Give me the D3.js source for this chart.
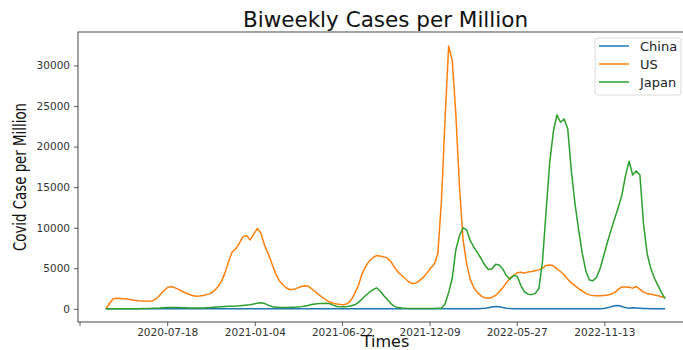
<!DOCTYPE html>
<html><head><meta charset="utf-8">
<script src="https://cdn.jsdelivr.net/npm/d3@7"></script>
<style>body{margin:0;background:#fff;overflow:hidden}</style>
</head><body>
<svg id="c" width="683" height="350"></svg>
<script>
// ---- data (weekly samples starting at startDate) ----
const startDate = "2020-03-21";
const stepDays = 7;
const seriesNames = ["China", "US", "Japan"];
const seriesColors = ["#1f77b4", "#ff7f0e", "#2ca02c"];
const china = [
  0,0,0,0,0,0,0,0,0,0,0,0,0,0,0,0,0,0,0,0,
  0,0,0,0,0,0,0,0,0,0,0,0,0,0,0,0,0,0,0,0,
  0,0,0,0,0,0,0,0,0,0,0,0,0,0,0,0,0,0,0,0,
  0,0,0,0,0,0,0,0,0,0,0,0,0,0,0,0,0,0,0,0,
  0,0,0,0,0,0,0,0,0,0,0,0,0,0,0,0,0,0,0,0,
  0,0,0,0,
  30,60,120,220,280,260,150,80,40,20,
  10,10,10,10,10,10,10,10,10,10,10,10,10,10,10,10,10,10,10,10,10,10,10,
  20,50,120,250,380,400,280,150,80,120,90,60,40,30,20,10,10,10,10
];
const us = [
  0,650,1200,1300,1280,1250,1200,1130,1050,1000,
  970,950,940,1000,1250,1700,2200,2600,2750,2620,
  2420,2200,1980,1800,1650,1560,1580,1650,1750,1870,
  2200,2700,3350,4400,5800,7000,7400,8100,8900,9000,
  8500,9200,9900,9300,7800,6800,5600,4400,3500,3000,
  2600,2350,2400,2550,2720,2850,2800,2500,2100,1750,
  1400,1100,830,680,580,520,500,650,1100,1900,
  2900,4300,5200,5900,6300,6550,6500,6400,6250,5800,
  5100,4500,4100,3700,3300,3100,3200,3500,3900,4400,
  5000,5500,6800,13300,23300,32400,30600,23900,15100,8500,
  5500,3600,2600,2000,1600,1350,1300,1400,1650,2100,
  2600,3200,3800,4100,4450,4500,4400,4550,4600,4700,
  4800,5000,5350,5400,5300,4900,4600,4200,3650,3200,
  2850,2500,2200,1900,1720,1650,1600,1620,1650,1700,
  1800,2000,2400,2700,2700,2650,2550,2750,2400,2050,
  1900,1800,1700,1600,1480,1360
];
const japan = [
  0,10,20,20,20,20,20,20,20,20,
  30,40,50,60,70,90,120,150,160,160,
  150,140,120,100,100,100,100,110,130,150,
  190,230,260,290,310,330,350,380,420,470,
  510,600,700,740,650,450,280,200,180,170,
  170,180,200,230,270,330,420,520,600,640,
  670,690,640,450,290,240,250,300,370,500,
  800,1200,1650,2050,2350,2590,2200,1650,1150,650,
  300,150,90,60,50,40,40,40,40,40,
  40,50,60,70,600,2000,3800,7300,9000,10000,
  9700,8400,7600,6900,6200,5400,4850,4900,5500,5400,
  4900,4100,3650,4100,4000,2900,2100,1800,1750,1900,
  2500,5800,12000,18000,21800,23900,23000,23400,22200,17000,
  13000,9800,6900,4700,3550,3450,3900,5000,6600,8200,
  9700,11100,12500,14000,16400,18200,16500,17000,16500,10500,
  6800,5000,3800,2900,2000,1250
];
const xTickDates = ["2020-01-30","2020-07-18","2021-01-04","2021-06-22","2021-12-09","2022-05-27","2022-11-13"];
const xTickLabels = ["","2020-07-18","2021-01-04","2021-06-22","2021-12-09","2022-05-27","2022-11-13"];
const yTicks = [0,5000,10000,15000,20000,25000,30000];
const xDomain = ["2020-01-27","2023-05-04"];
const yDomain = [-1625, 34125];
const titleText = "Biweekly Cases per Million";
const xLabel = "Times";
const yLabel = "Covid Case per Million";

// ---- layout ----
const L = 78, R = 693, T = 32, B = 322;
const font = "DejaVu Sans, sans-serif";
const parse = d3.utcParse("%Y-%m-%d");
const start = parse(startDate);
const dates = us.map((_, i) => d3.utcDay.offset(start, i * stepDays));

const x = d3.scaleUtc().domain(xDomain.map(parse)).range([L, R]);
const y = d3.scaleLinear().domain(yDomain).range([B, T]);

const svg = d3.select("#c");
svg.append("rect").attr("width", 683).attr("height", 350).attr("fill", "#fff");

svg.append("defs").append("clipPath").attr("id", "clip")
  .append("rect").attr("x", L).attr("y", T).attr("width", R - L).attr("height", B - T);

const line = d3.line().x((d, i) => x(dates[i])).y(d => y(d));
const g = svg.append("g").attr("clip-path", "url(#clip)");
[china, us, japan].forEach((s, k) => {
  g.append("path").datum(s).attr("d", line)
    .attr("fill", "none").attr("stroke", seriesColors[k])
    .attr("stroke-width", 1.5).attr("stroke-linejoin", "round");
});

// axes
const yAxis = d3.axisLeft(y).tickValues(yTicks).tickSize(4).tickPadding(4).tickFormat(d3.format("d"));
const ya = svg.append("g").attr("transform", `translate(${L},0)`).call(yAxis);
const xAxis = d3.axisBottom(x).tickValues(xTickDates.map(parse)).tickSize(4).tickPadding(3)
  .tickFormat((d, i) => xTickLabels[i]);
const xa = svg.append("g").attr("transform", `translate(0,${B})`).call(xAxis);
[ya, xa].forEach(a => {
  a.select(".domain").remove();
  a.selectAll(".tick line").attr("stroke", "#333").attr("stroke-width", 0.8);
  a.selectAll(".tick text").attr("fill", "#333").style("font-family", font).style("font-size", "10.5px");
});

// spines
svg.append("rect").attr("x", L).attr("y", T).attr("width", R - L).attr("height", B - T)
  .attr("fill", "none").attr("stroke", "#333").attr("stroke-width", 0.9);

// title & labels
svg.append("text").attr("x", (L + R) / 2).attr("y", 27).attr("text-anchor", "middle")
  .style("font-family", font).style("font-size", "21.5px").attr("fill", "#111").text(titleText);
svg.append("text").attr("x", (L + R) / 2).attr("y", 347).attr("text-anchor", "middle")
  .style("font-family", font).style("font-size", "16px").attr("fill", "#111").text(xLabel);
svg.append("text").attr("transform", `translate(26,${(T + B) / 2}) rotate(-90)`)
  .attr("text-anchor", "middle").style("font-family", font).style("font-size", "17px")
  .attr("fill", "#111").attr("textLength", 148).attr("lengthAdjust", "spacingAndGlyphs").text(yLabel);

// legend
const lg = svg.append("g");
lg.append("rect").attr("x", 595).attr("y", 38).attr("width", 86).attr("height", 57).attr("rx", 3)
  .attr("fill", "#fff").attr("fill-opacity", 0.8).attr("stroke", "#d6d6d6").attr("stroke-width", 0.9);
seriesNames.forEach((n, k) => {
  const yy = 46 + k * 18;
  lg.append("line").attr("x1", 599).attr("x2", 629).attr("y1", yy).attr("y2", yy)
    .attr("stroke", seriesColors[k]).attr("stroke-width", 1.5);
  lg.append("text").attr("x", 640).attr("y", yy).attr("dy", "0.35em")
    .style("font-family", font).style("font-size", "13px").attr("fill", "#222").text(n);
});
</script>
</body></html>
